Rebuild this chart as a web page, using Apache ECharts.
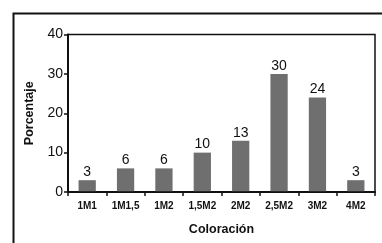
<!DOCTYPE html>
<html>
<head>
<meta charset="utf-8">
<script src="https://cdn.jsdelivr.net/npm/echarts@6/dist/echarts.min.js"></script>
<style>
html,body{margin:0;padding:0;background:#fff;}
#chart{width:382px;height:243px;}
</style>
</head>
<body>
<div id="chart"></div>
<script>
var categories = ['1M1', '1M1,5', '1M2', '1,5M2', '2M2', '2,5M2', '3M2', '4M2'];
var porcentaje = [3, 6, 6, 10, 13, 30, 24, 3];
var yTicks = [0, 10, 20, 30, 40];

var chart = echarts.init(document.getElementById('chart'));
var fontFam = 'Liberation Sans, Arial, sans-serif';

chart.setOption({
	animation: false,
	// marco exterior
	graphic: [{
		type: 'rect',
		shape: {x: 13.5, y: 13.5, width: 400, height: 260},
		style: {fill: 'none', stroke: '#111', lineWidth: 2}
	}, {
		type: 'rect',
		shape: {x: 68, y: 34.5, width: 307, height: 157.5},
		style: {fill: 'none', stroke: '#111', lineWidth: 1.5},
		z: 10
	}],
	grid: {left: 68, right: 7, top: 34.5, bottom: 51},
	xAxis: {
		type: 'category',
		data: categories,
		name: 'Coloración',
		nameLocation: 'middle',
		nameGap: 31,
		nameTextStyle: {fontFamily: fontFam, fontWeight: 'bold', fontSize: 12.5, color: '#111'},
		axisLine: {lineStyle: {color: '#111', width: 2}},
		axisTick: {show: true, alignWithLabel: false, length: 4, lineStyle: {color: '#111', width: 1.5}},
		axisLabel: {interval: 0, fontFamily: fontFam, fontWeight: 'bold', fontSize: 10, color: '#111', margin: 9}
	},
	yAxis: {
		type: 'value',
		min: yTicks[0],
		max: yTicks[yTicks.length - 1],
		interval: 10,
		name: 'Porcentaje',
		nameLocation: 'middle',
		nameGap: 32,
		nameTextStyle: {fontFamily: fontFam, fontWeight: 'bold', fontSize: 12.5, color: '#111'},
		axisLine: {show: true, lineStyle: {color: '#111', width: 2}},
		axisTick: {show: true, length: 4, lineStyle: {color: '#111', width: 1.5}},
		axisLabel: {fontFamily: fontFam, fontSize: 14, color: '#111', margin: 5},
		splitLine: {show: false}
	},
	series: [{
		type: 'bar',
		data: porcentaje,
		barWidth: '45%',
		itemStyle: {color: '#6f6f6f'},
		label: {
			show: true,
			position: 'top',
			distance: 1,
			fontFamily: fontFam,
			fontSize: 14,
			color: '#111'
		}
	}]
});
</script>
</body>
</html>
